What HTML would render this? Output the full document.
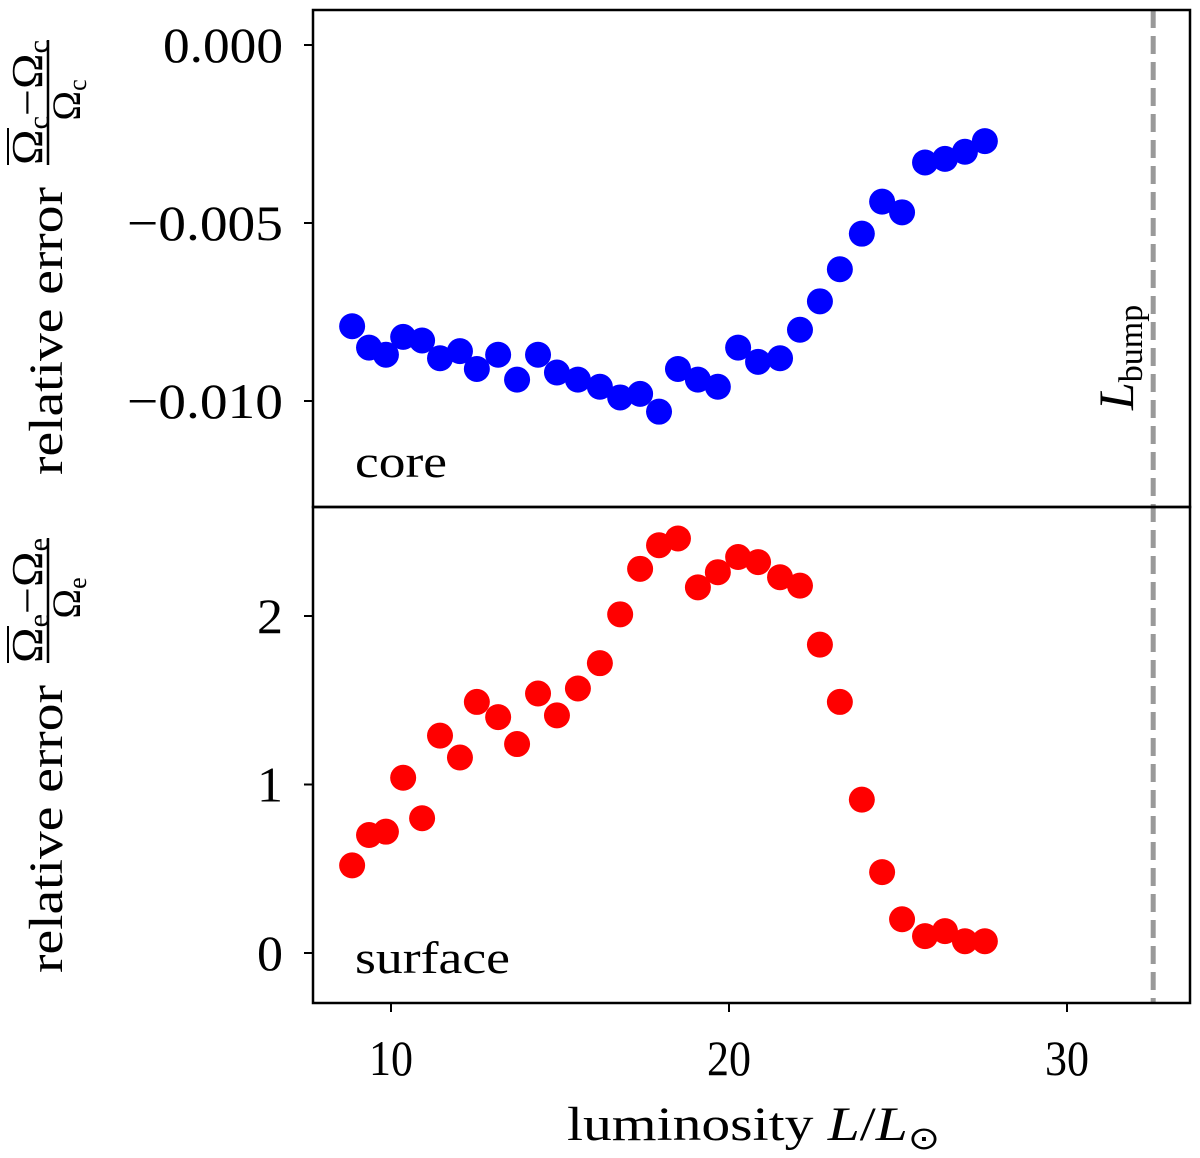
<!DOCTYPE html>
<html><head><meta charset="utf-8"><style>
html,body{margin:0;padding:0;background:#fff}
svg{display:block;font-family:"Liberation Serif",serif}
</style></head><body>
<svg id="chart" width="1200" height="1158" viewBox="0 0 1200 1158">
<g id="marks"></g>
<rect x="313" y="10" width="877" height="497" fill="none" stroke="#000" stroke-width="2.5"/>
<rect x="313" y="507" width="877" height="496" fill="none" stroke="#000" stroke-width="2.5"/>
<g id="axes"></g>
<text x="355" y="477" font-size="46" textLength="92" lengthAdjust="spacingAndGlyphs">core</text>
<text x="355" y="973" font-size="46" textLength="155" lengthAdjust="spacingAndGlyphs">surface</text>
<text transform="translate(1133,410) rotate(-90)" font-size="50"><tspan font-style="italic">L</tspan><tspan font-size="34" dy="9">bump</tspan></text>
<text x="567" y="1140" font-size="48" textLength="373" lengthAdjust="spacingAndGlyphs">luminosity <tspan font-style="italic">L</tspan>/<tspan font-style="italic">L</tspan><tspan font-size="32" dy="9">⊙</tspan></text>
<g transform="translate(62,300) rotate(-90)">
<text x="-175" y="0" font-size="48" textLength="288" lengthAdjust="spacingAndGlyphs">relative error</text>
<text x="135" y="-20" font-size="44" textLength="125" lengthAdjust="spacingAndGlyphs">Ω<tspan font-size="28" dy="6">c</tspan><tspan dy="-6">−Ω</tspan><tspan font-size="28" dy="6">c</tspan></text>
<line x1="135" y1="-54" x2="172" y2="-54" stroke="#000" stroke-width="2"/>
<line x1="135" y1="-14" x2="260" y2="-14" stroke="#000" stroke-width="2.5"/>
<text x="200" y="18" font-size="40" text-anchor="middle">Ω<tspan font-size="26" dy="6">c</tspan></text>
</g>
<g transform="translate(62,795) rotate(-90)">
<text x="-178" y="0" font-size="48" textLength="288" lengthAdjust="spacingAndGlyphs">relative error</text>
<text x="132" y="-20" font-size="44" textLength="125" lengthAdjust="spacingAndGlyphs">Ω<tspan font-size="28" dy="6">e</tspan><tspan dy="-6">−Ω</tspan><tspan font-size="28" dy="6">e</tspan></text>
<line x1="132" y1="-54" x2="169" y2="-54" stroke="#000" stroke-width="2"/>
<line x1="132" y1="-14" x2="257" y2="-14" stroke="#000" stroke-width="2.5"/>
<text x="197" y="18" font-size="40" text-anchor="middle">Ω<tspan font-size="26" dy="6">e</tspan></text>
</g>
</svg>
<script>
const lum = [8.85,9.35,9.85,10.36,10.92,11.45,12.04,12.54,13.17,13.73,14.35,14.91,15.53,16.18,16.78,17.37,17.93,18.49,19.08,19.67,20.27,20.86,21.51,22.1,22.69,23.28,23.93,24.53,25.12,25.8,26.39,26.98,27.57];
const coreErr = [-0.0079,-0.0085,-0.0087,-0.0082,-0.0083,-0.0088,-0.0086,-0.0091,-0.0087,-0.0094,-0.0087,-0.0092,-0.0094,-0.0096,-0.0099,-0.0098,-0.0103,-0.0091,-0.0094,-0.0096,-0.0085,-0.0089,-0.0088,-0.0080,-0.0072,-0.0063,-0.0053,-0.0044,-0.0047,-0.0033,-0.0032,-0.0030,-0.0027];
const surfErr = [0.52,0.70,0.72,1.04,0.80,1.29,1.16,1.49,1.40,1.24,1.54,1.41,1.57,1.72,2.01,2.28,2.42,2.46,2.17,2.26,2.35,2.32,2.23,2.18,1.83,1.49,0.91,0.48,0.20,0.10,0.13,0.07,0.07];
const xTicks = [10,20,30];
const coreTicks = [0,-0.005,-0.010];
const coreTickLabels = ["0.000","−0.005","−0.010"];
const surfTicks = [0,1,2];
const lBump = 32.55;

const NS="http://www.w3.org/2000/svg";
const xS = v => 391 + (v-10)*33.8;
const yC = v => 45 - v*35600;
const yS = v => 953 - v*168.5;
const marks=document.getElementById('marks'), axes=document.getElementById('axes');
function mk(tag,attrs,parent){const e=document.createElementNS(NS,tag);for(const k in attrs)e.setAttribute(k,attrs[k]);parent.appendChild(e);return e;}

const dash=mk('line',{x1:xS(lBump),x2:xS(lBump),y1:10,y2:1003,stroke:'#999','stroke-width':5,'stroke-dasharray':'18,8'},marks);



lum.forEach((l,i)=>{
  const c=mk('circle',{cx:xS(l),cy:yC(coreErr[i]),r:13,fill:'#0000ff'},marks);
  
  
  const s=mk('circle',{cx:xS(l),cy:yS(surfErr[i]),r:13,fill:'#ff0000'},marks);
  
  
});

function lbl(txt,x,y,anchor,w){
  const t=mk('text',{x:x,y:y,'font-size':50,'text-anchor':anchor,textLength:w,lengthAdjust:'spacingAndGlyphs'},axes);
  t.textContent=txt;
  return t;
}
xTicks.forEach(t=>{
  const x=xS(t);
  mk('line',{x1:x,x2:x,y1:1003,y2:1012,stroke:'#000','stroke-width':2},axes);
  const tx=lbl(String(t),x,1075,'middle',44);
  
  
});
coreTicks.forEach((t,i)=>{
  const y=yC(t);
  mk('line',{x1:304,x2:313,y1:y,y2:y,stroke:'#000','stroke-width':2},axes);
  const s=coreTickLabels[i];
  const tx=lbl(s,283,y+17,'end',s.length===5?120:156);
  
  
});
surfTicks.forEach(t=>{
  const y=yS(t);
  mk('line',{x1:304,x2:313,y1:y,y2:y,stroke:'#000','stroke-width':2},axes);
  const tx=lbl(String(t),283,y+17,'end',26);
  
  
});
</script>
</body></html>
